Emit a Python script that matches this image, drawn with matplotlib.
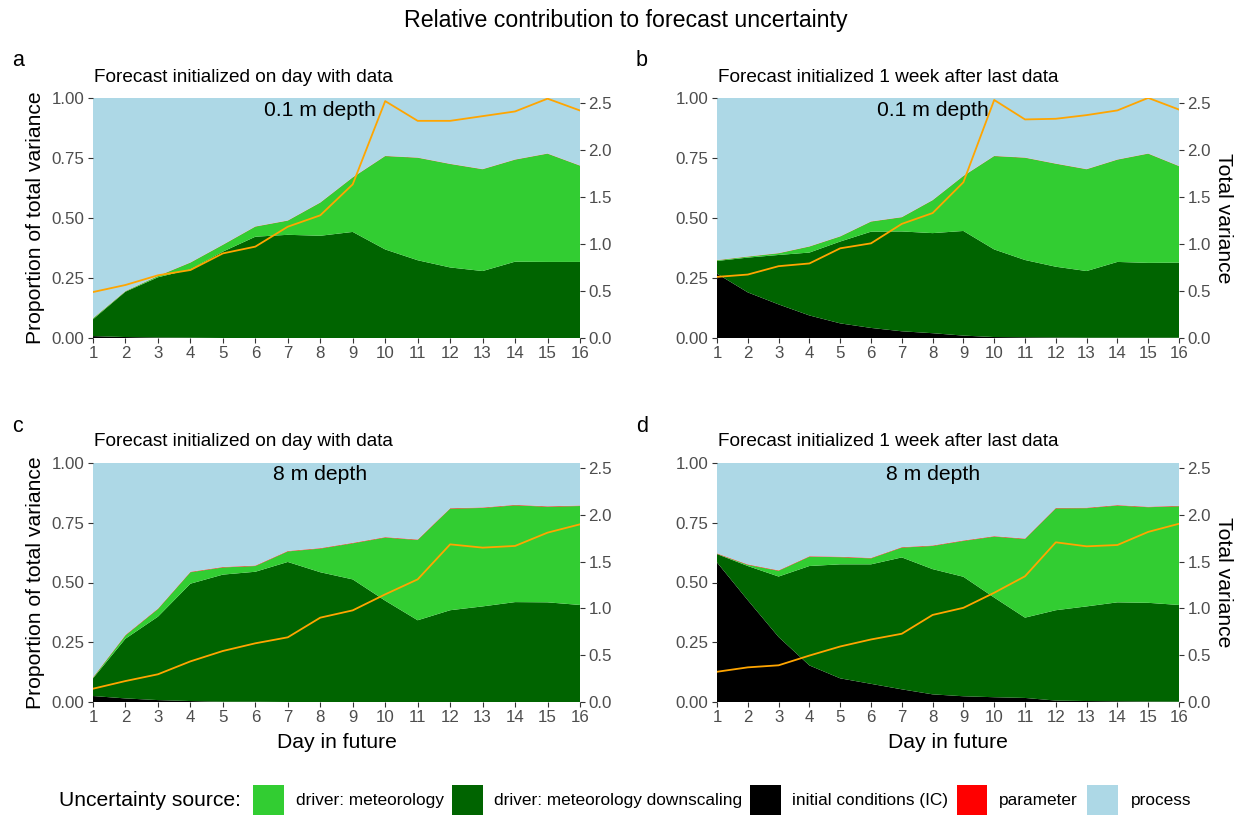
import matplotlib
matplotlib.use("Agg")
import matplotlib.pyplot as plt
from matplotlib.patches import Rectangle

plt.rcParams['font.family'] = ['Liberation Sans', 'DejaVu Sans']

days = list(range(1, 17))

# ---------------- data (proportion of total variance by source) -------------
# panel a: 0.1 m, initialized on day with data
a_ic = [0.008, 0.004, 0.002, 0.001, 0, 0, 0, 0, 0, 0, 0, 0, 0, 0, 0, 0]
a_down = [0.070, 0.189, 0.251, 0.285, 0.360, 0.422, 0.430, 0.426, 0.442, 0.369, 0.324, 0.294, 0.279, 0.318, 0.317, 0.317]
a_met = [0.004, 0.002, 0.005, 0.028, 0.028, 0.042, 0.059, 0.138, 0.227, 0.389, 0.427, 0.431, 0.424, 0.425, 0.451, 0.401]
a_par = [0.001] * 16
a_proc = [0.917, 0.806, 0.741, 0.685, 0.611, 0.535, 0.510, 0.435, 0.330, 0.241, 0.248, 0.274, 0.296, 0.256, 0.231, 0.281]
a_tot = [0.489, 0.564, 0.667, 0.723, 0.900, 0.972, 1.184, 1.305, 1.635, 2.520, 2.310, 2.310, 2.360, 2.410, 2.546, 2.420]

# panel b: 0.1 m, initialized 1 week after last data
b_ic = [0.268, 0.190, 0.140, 0.094, 0.061, 0.042, 0.028, 0.020, 0.010, 0.004, 0.003, 0.002, 0.001, 0.001, 0.001, 0.001]
b_down = [0.053, 0.145, 0.206, 0.262, 0.341, 0.401, 0.416, 0.417, 0.436, 0.365, 0.322, 0.295, 0.278, 0.316, 0.312, 0.313]
b_met = [0.003, 0.004, 0.007, 0.025, 0.021, 0.042, 0.059, 0.137, 0.229, 0.389, 0.426, 0.429, 0.424, 0.426, 0.455, 0.402]
b_par = [0.001] * 16
b_proc = [0.675, 0.660, 0.646, 0.618, 0.576, 0.514, 0.496, 0.425, 0.324, 0.241, 0.248, 0.273, 0.296, 0.256, 0.231, 0.283]
b_tot = [0.650, 0.675, 0.764, 0.793, 0.954, 1.007, 1.214, 1.329, 1.657, 2.532, 2.325, 2.332, 2.371, 2.421, 2.554, 2.430]

# panel c: 8 m, initialized on day with data
c_ic = [0.025, 0.015, 0.008, 0.004, 0.001, 0.001, 0, 0, 0, 0, 0, 0, 0, 0, 0, 0]
c_down = [0.074, 0.250, 0.349, 0.491, 0.532, 0.544, 0.586, 0.543, 0.513, 0.424, 0.342, 0.384, 0.400, 0.418, 0.417, 0.406]
c_met = [0.003, 0.014, 0.032, 0.048, 0.030, 0.024, 0.044, 0.099, 0.151, 0.264, 0.336, 0.425, 0.412, 0.405, 0.400, 0.414]
c_par = [0.002] * 16
c_proc = [0.896, 0.719, 0.609, 0.455, 0.435, 0.429, 0.368, 0.356, 0.334, 0.310, 0.320, 0.189, 0.186, 0.175, 0.181, 0.178]
c_tot = [0.142, 0.224, 0.296, 0.434, 0.545, 0.627, 0.691, 0.901, 0.979, 1.150, 1.310, 1.684, 1.649, 1.667, 1.809, 1.898]

# panel d: 8 m, initialized 1 week after last data
d_ic = [0.584, 0.426, 0.272, 0.153, 0.099, 0.076, 0.053, 0.032, 0.024, 0.020, 0.017, 0.006, 0.004, 0.003, 0.002, 0.001]
d_down = [0.035, 0.143, 0.253, 0.416, 0.477, 0.500, 0.552, 0.524, 0.500, 0.417, 0.336, 0.378, 0.396, 0.414, 0.413, 0.405]
d_met = [0.001, 0.005, 0.024, 0.039, 0.030, 0.025, 0.041, 0.097, 0.150, 0.255, 0.329, 0.426, 0.411, 0.405, 0.400, 0.413]
d_par = [0.002] * 16
d_proc = [0.379, 0.424, 0.449, 0.390, 0.392, 0.397, 0.352, 0.345, 0.324, 0.306, 0.316, 0.188, 0.187, 0.176, 0.183, 0.179]
d_tot = [0.323, 0.370, 0.392, 0.496, 0.593, 0.668, 0.729, 0.930, 1.006, 1.167, 1.343, 1.706, 1.663, 1.677, 1.817, 1.904]

source_labels = ["driver: meteorology", "driver: meteorology downscaling",
                 "initial conditions (IC)", "parameter", "process"]
source_colors = ["#32CD32", "#006400", "#000000", "#FF0000", "#ADD8E6"]
left_ticks = [0.0, 0.25, 0.5, 0.75, 1.0]
left_ticklabels = ["0.00", "0.25", "0.50", "0.75", "1.00"]
right_ticks = [0.0, 0.5, 1.0, 1.5, 2.0, 2.5]
right_ticklabels = ["0.0", "0.5", "1.0", "1.5", "2.0", "2.5"]

panels = [
    dict(letter="a", sub="Forecast initialized on day with data", depth="0.1 m depth",
         data=(a_ic, a_down, a_met, a_par, a_proc), tot=a_tot),
    dict(letter="b", sub="Forecast initialized 1 week after last data", depth="0.1 m depth",
         data=(b_ic, b_down, b_met, b_par, b_proc), tot=b_tot),
    dict(letter="c", sub="Forecast initialized on day with data", depth="8 m depth",
         data=(c_ic, c_down, c_met, c_par, c_proc), tot=c_tot),
    dict(letter="d", sub="Forecast initialized 1 week after last data", depth="8 m depth",
         data=(d_ic, d_down, d_met, d_par, d_proc), tot=d_tot),
]

# ---------------- layout (pixels) ------------------------------------------
W, H = 1241, 815
fig = plt.figure(figsize=(W / 100, H / 100), dpi=100)
fig.patch.set_facecolor("white")


def fx(px):
    return px / W


def fy(py):
    return 1 - py / H


rects = [(93, 580, 98, 338), (717, 1179, 98, 338),
         (93, 580, 463, 702), (717, 1179, 463, 702)]
tickc = "#4D4D4D"
TICK_FS = 12.2

stack_colors = ["#000000", "#006400", "#32CD32", "#FF0000", "#ADD8E6"]

for i, (p, (l, r, t, b)) in enumerate(zip(panels, rects)):
    ax = fig.add_axes([fx(l), fy(b), (r - l) / W, (b - t) / H])
    ax.stackplot(days, *p["data"], colors=stack_colors, linewidth=0, antialiased=True)
    ax.set_xlim(1, 16)
    ax.set_ylim(0, 1)
    ax.set_xticks(days)
    ax.set_xticklabels([str(d) for d in days])
    ax.set_yticks(left_ticks)
    ax.set_yticklabels(left_ticklabels)
    for s in ax.spines.values():
        s.set_visible(False)
    ax.tick_params(axis="both", direction="out", length=3.6, width=0.8,
                   color="#333333", labelcolor=tickc, labelsize=TICK_FS, pad=2.5)
    ax.text(8, 0.95, p["depth"], ha="center", va="center", fontsize=15.2, color="black")

    ax2 = ax.twinx()
    ax2.plot(days, p["tot"], color="#FFA500", lw=1.3)
    ax2.set_ylim(0, 2.553)
    ax2.set_yticks(right_ticks)
    ax2.set_yticklabels(right_ticklabels)
    for s in ax2.spines.values():
        s.set_visible(False)
    ax2.tick_params(axis="y", direction="out", length=3.6, width=0.8,
                    color="#333333", labelcolor=tickc, labelsize=TICK_FS, pad=2.5)

    fig.text(fx(l - 81), fy(t - 37), p["letter"], ha="left", va="center", fontsize=15.5)
    fig.text(fx(l + 1.3), fy(t - 21), p["sub"], ha="left", va="center", fontsize=13.7)

    if i in (0, 2):
        fig.text(fx(36), fy((t + b) / 2), "Proportion of total variance", rotation=90,
                 ha="center", va="center", fontsize=15.2)
    if i in (1, 3):
        fig.text(fx(1223), fy((t + b) / 2), "Total variance", rotation=270,
                 ha="center", va="center", fontsize=15.2)
    if i in (2, 3):
        fig.text(fx((l + r) / 2), fy(742), "Day in future", ha="center", va="center",
                 fontsize=15.2)

fig.text(fx(626), fy(20), "Relative contribution to forecast uncertainty",
         ha="center", va="center", fontsize=16.7)

# ---------------- legend ----------------------------------------------------
fig.text(fx(59), fy(801), "Uncertainty source:", ha="left", va="center", fontsize=15.2)
key_x = [253, 452, 750, 956.5, 1087.3]
text_x = [295.5, 494.3, 792, 998.6, 1130.5]
for kx, tx, lab, col in zip(key_x, text_x, source_labels, source_colors):
    fig.patches.append(Rectangle((fx(kx), fy(815)), 30.6 / W, 30 / H,
                                 transform=fig.transFigure, facecolor=col,
                                 edgecolor="none"))
    fig.text(fx(tx), fy(801), lab, ha="left", va="center", fontsize=12.45)

fig.savefig("out.png", dpi=100)
